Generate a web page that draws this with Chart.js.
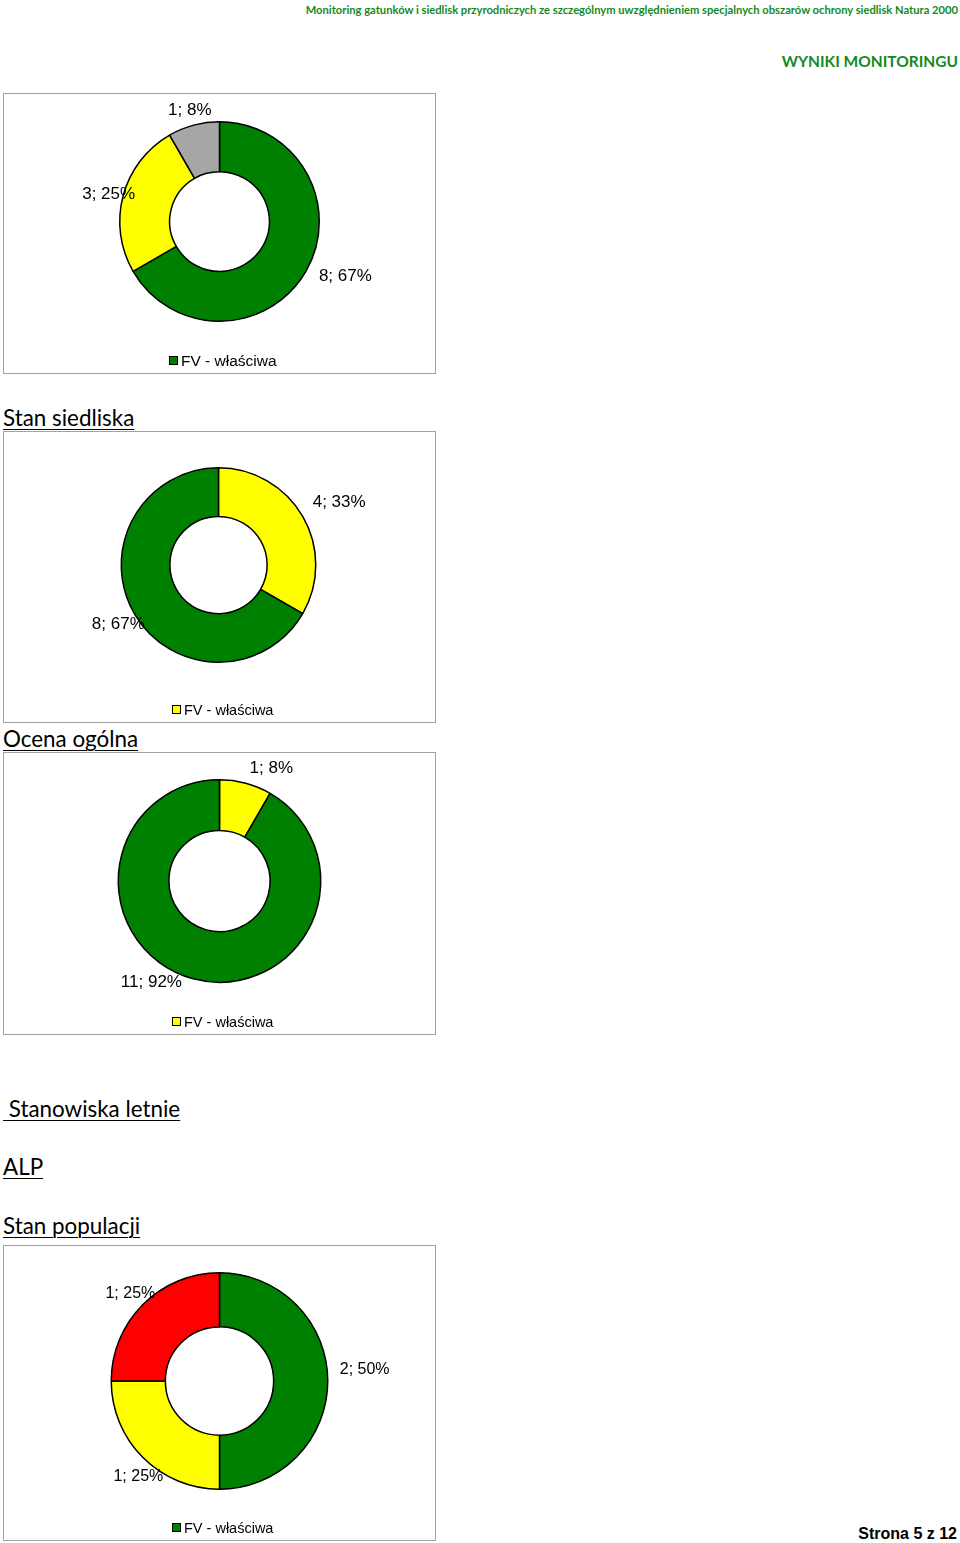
<!DOCTYPE html>
<html lang="pl">
<head>
<meta charset="utf-8">
<title>Wyniki monitoringu</title>
<script src="https://cdn.jsdelivr.net/npm/chart.js@4.4.1/dist/chart.umd.min.js"></script>
<style>
  html, body { margin: 0; padding: 0; background: #fff; }
  body { position: relative; width: 960px; height: 1543px; overflow: hidden; font-family: Lato, "Open Sans", sans-serif; }
  .top { position: absolute; right: 2px; color: #138a1e; font-weight: bold; white-space: nowrap; }
  .top1 { top: 3px; font-size: 11.2px; line-height: 14px; }
  .top2 { top: 52px; font-size: 15.5px; line-height: 18px; }
  .head { position: absolute; left: 3px; font-size: 22.4px; line-height: 22px; text-decoration: underline; text-decoration-thickness: 1px; text-underline-offset: 3px; white-space: pre; color: #000; }
  .box { position: absolute; left: 3px; width: 433px; box-sizing: border-box; border: 1px solid #a3a3a3; background: #fff; }
  .box canvas { display: block; }
  .footer { position: absolute; right: 3px; top: 1525px; font: bold 16px "Liberation Sans", Arial, sans-serif; color: #000; }
</style>
</head>
<body>
<div class="top top1">Monitoring gatunków i siedlisk przyrodniczych ze szczególnym uwzględnieniem specjalnych obszarów ochrony siedlisk Natura 2000</div>
<div class="top top2">WYNIKI MONITORINGU</div>

<div class="box" style="top:93px;height:281px"><canvas id="chart-populacja"></canvas></div>

<div class="head" style="top:407px">Stan siedliska</div>
<div class="box" style="top:431px;height:292px"><canvas id="chart-siedlisko"></canvas></div>

<div class="head" style="top:728px">Ocena ogólna</div>
<div class="box" style="top:752px;height:283px"><canvas id="chart-ocena"></canvas></div>

<div class="head" style="top:1098px"> Stanowiska letnie</div>
<div class="head" style="top:1156px">ALP</div>
<div class="head" style="top:1215px">Stan populacji</div>
<div class="box" style="top:1245px;height:296px"><canvas id="chart-alp"></canvas></div>

<div class="footer">Strona 5 z 12</div>

<script>
// dane z wykresów
const populacjaLabels = ['FV - właściwa', 'U1 - niezadowalająca', 'XX - nieznana'];
const populacjaValues = [8, 3, 1];

const siedliskoLabels = ['FV - właściwa', 'U1 - niezadowalająca'];
const siedliskoValues = [4, 8];

const ocenaLabels = ['FV - właściwa', 'U1 - niezadowalająca'];
const ocenaValues = [1, 11];

const alpLabels = ['FV - właściwa', 'U1 - niezadowalająca', 'U2 - zła'];
const alpValues = [2, 1, 1];

const GREEN = '#008000';
const YELLOW = '#ffff00';
const GRAY = '#a6a6a6';
const RED = '#ff0000';

// podpisy "wartość; procent" poza pierścieniem
// (Excel czasem przesuwa podpis - labelShift to poprawka w pikselach)
const sliceLabels = {
  id: 'sliceLabels',
  afterDatasetsDraw(chart) {
    const ctx = chart.ctx;
    const ds = chart.data.datasets[0];
    const total = ds.data.reduce((a, b) => a + b, 0);
    const meta = chart.getDatasetMeta(0);
    const shifts = chart.options.labelShift || {};
    ctx.save();
    ctx.font = (chart.options.labelFont || 16) + 'px "Liberation Sans", Arial, sans-serif';
    ctx.fillStyle = '#000';
    ctx.textBaseline = 'middle';
    meta.data.forEach((arc, i) => {
      const p = arc.getProps(['x', 'y', 'startAngle', 'endAngle', 'outerRadius'], true);
      const mid = (p.startAngle + p.endAngle) / 2;
      const dist = p.outerRadius + 15;
      const s = shifts[i] || [0, 0];
      const x = p.x + Math.cos(mid) * dist + s[0];
      const y = p.y + Math.sin(mid) * dist + s[1];
      ctx.textAlign = Math.cos(mid) > 0.2 ? 'left' : 'center';
      const pct = Math.round(ds.data[i] / total * 100);
      ctx.fillText(ds.data[i] + '; ' + pct + '%', x, y);
    });
    ctx.restore();
  }
};

// legenda jak w Excelu - tylko pierwsza pozycja
const firstLegend = {
  id: 'firstLegend',
  afterDraw(chart) {
    const ctx = chart.ctx;
    const ds = chart.data.datasets[0];
    const text = chart.data.labels[0];
    const size = chart.options.legendFont || 14;
    ctx.save();
    ctx.font = size + 'px "Liberation Sans", Arial, sans-serif';
    const tw = ctx.measureText(text).width;
    const full = 8 + 4 + tw;
    const x0 = Math.round(chart.width / 2 + 3 - full / 2);
    const y = chart.height - 12;
    ctx.fillStyle = ds.backgroundColor[0];
    ctx.fillRect(x0 + 0.5, y - 4.5, 8, 8);
    ctx.strokeStyle = '#000';
    ctx.lineWidth = 1;
    ctx.strokeRect(x0 + 0.5, y - 4.5, 8, 8);
    ctx.fillStyle = '#000';
    ctx.textBaseline = 'middle';
    ctx.textAlign = 'left';
    ctx.fillText(text, x0 + 12, y + 0.5);
    ctx.restore();
  }
};

function makeDonut(id, labels, values, colors, padding, labelFont, legendFont, labelShift) {
  const canvas = document.getElementById(id);
  const box = canvas.parentNode;
  canvas.width = box.clientWidth;
  canvas.height = box.clientHeight;
  canvas.style.width = box.clientWidth + 'px';
  canvas.style.height = box.clientHeight + 'px';
  return new Chart(canvas, {
    type: 'doughnut',
    data: {
      labels,
      datasets: [{
        data: values,
        backgroundColor: colors,
        borderColor: '#000',
        borderWidth: 1.5
      }]
    },
    plugins: [sliceLabels, firstLegend],
    options: {
      responsive: false,
      animation: false,
      cutout: '50%',
      layout: { padding },
      labelFont,
      legendFont,
      labelShift,
      plugins: {
        legend: { display: false },
        tooltip: { enabled: false }
      }
    }
  });
}

makeDonut('chart-populacja', populacjaLabels, populacjaValues, [GREEN, YELLOW, GRAY],
  { left: 115, right: 115, top: 27, bottom: 51 }, 17, 15.5, { 0: [0, -3], 1: [0, 3] });
makeDonut('chart-siedlisko', siedliskoLabels, siedliskoValues, [YELLOW, GREEN],
  { left: 116, right: 118, top: 35, bottom: 59 }, 17, 14.5, { 0: [-3, -7], 1: [-3, 3] });
makeDonut('chart-ocena', ocenaLabels, ocenaValues, [YELLOW, GREEN],
  { left: 113, right: 113, top: 26, bottom: 51 }, 17, 14.5, { 1: [-38, -11] });
makeDonut('chart-alp', alpLabels, alpValues, [GREEN, YELLOW, RED],
  { left: 106, right: 106, top: 26, bottom: 50 }, 16, 14.5, { 0: [-3, -11], 1: [6, 8], 2: [-2, 0] });
</script>
</body>
</html>
